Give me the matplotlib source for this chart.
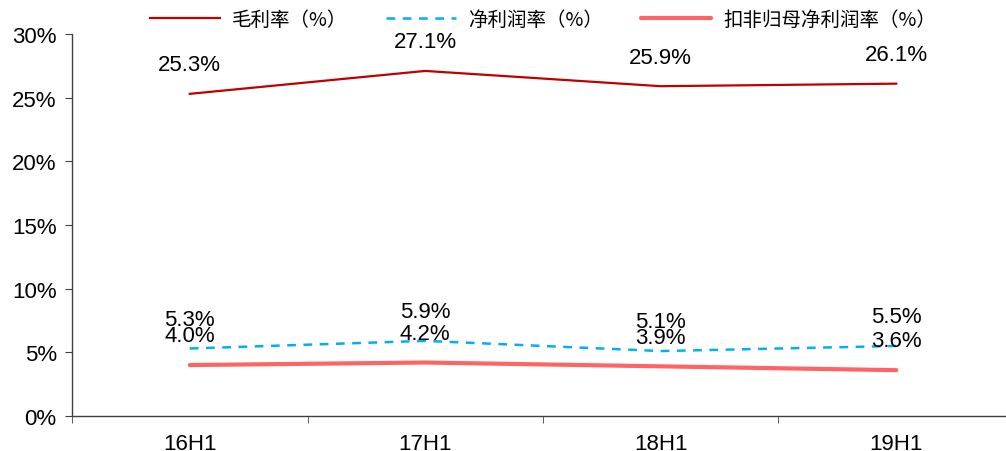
import matplotlib
matplotlib.use('Agg')
import matplotlib.pyplot as plt
import numpy as np

plt.rcParams['font.family'] = ['Liberation Sans', 'Noto Sans CJK SC', 'DejaVu Sans']

# Margin data by half-year
periods = ['16H1', '17H1', '18H1', '19H1']
gross_margin = [25.3, 27.1, 25.9, 26.1]
net_margin = [5.3, 5.9, 5.1, 5.5]
core_net_margin = [4.0, 4.2, 3.9, 3.6]

fig = plt.figure(figsize=(10.06, 4.52), dpi=100)
ax = fig.add_axes([72 / 1006, 35 / 452, 942 / 1006, 382 / 452])

x = np.arange(len(periods))
ax.plot(x, gross_margin, color='#C00000', lw=1.6, label='毛利率（%）')
ax.plot(x, net_margin, color='#00B0F0', lw=1.8, ls=(0, (3.5, 3)), label='净利润率（%）')
ax.plot(x, core_net_margin, color='#FF6464', lw=3.0, solid_capstyle='round', label='扣非归母净利润率（%）')

# value labels above each point
for series in (gross_margin, net_margin, core_net_margin):
    for xi, v in zip(x, series):
        ax.annotate(f'{v:.1f}%', (xi, v), xytext=(0, 21), textcoords='offset points',
                    ha='center', va='center', fontsize=16, color='black')

ax.set_xlim(-0.5, 3.5)
ax.set_ylim(0, 30)
ax.set_yticks(range(0, 31, 5))
ax.set_yticklabels([f'{v}%' for v in range(0, 31, 5)], fontsize=16)
ax.set_xticks(x)
ax.set_xticklabels(periods, fontsize=16)
ax.set_xticks(np.arange(-0.5, 4, 1), minor=True)
ax.tick_params(axis='x', which='major', length=0, pad=12)
ax.tick_params(axis='x', which='minor', length=5, direction='out', color='#404040')
ax.tick_params(axis='y', length=5, direction='out', color='#404040', pad=6)

for side in ('top', 'right'):
    ax.spines[side].set_visible(False)
for side in ('left', 'bottom'):
    ax.spines[side].set_color('#404040')
    ax.spines[side].set_linewidth(1.0)

leg = fig.legend(loc='center', bbox_to_anchor=(543 / 1006, 1 - 20 / 452), ncol=3,
                 frameon=False, handlelength=3.6, columnspacing=2.0, handletextpad=0.6,
                 prop={'family': ['Noto Sans CJK SC', 'DejaVu Sans'], 'size': 14})

fig.savefig('out.png', dpi=100)
